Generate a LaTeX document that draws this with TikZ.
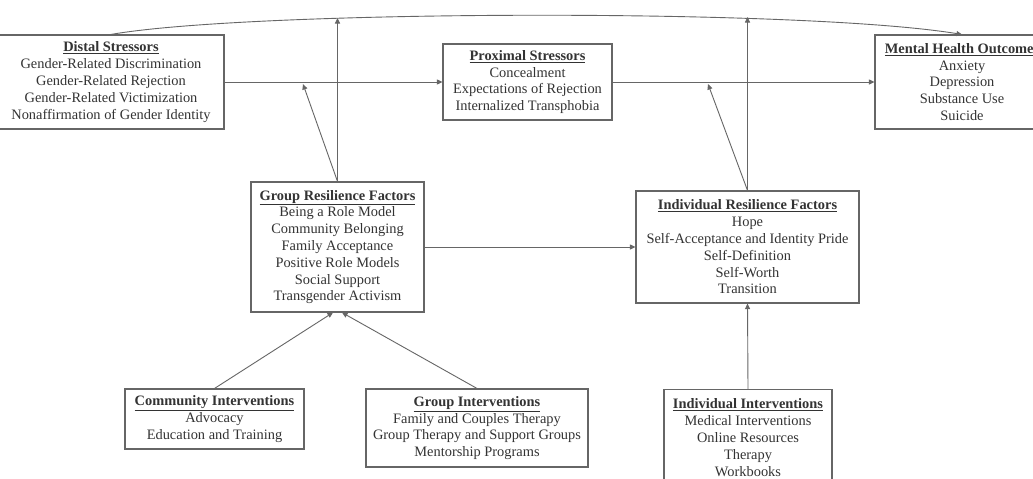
\documentclass[tikz,border=0pt]{standalone}
\usepackage{fontspec}
\setmainfont{Liberation Serif}
\usetikzlibrary{arrows.meta}
\tikzset{
  box/.style={draw=black!60, line width=1.1pt, align=center, inner sep=0pt, text=black!80,
    font=\fontsize{14.4}{16.8}\selectfont},
  conn/.style={draw=black!60, line width=0.9pt},
  arr/.style={conn, -{Triangle[length=5.5pt,width=5pt]}},
}
\newcommand{\ttl}[1]{\underline{\textbf{#1}}}
\begin{document}
\begin{tikzpicture}[x=1pt,y=-1pt]
\useasboundingbox (0,0) rectangle (1033,479);
\clip (0,0) rectangle (1033,479);
\fill[white] (0,0) rectangle (1033,479);
% nodes
\node[box, minimum width=226pt, minimum height=94pt] (dist) at (111,82)
  {\ttl{Distal Stressors}\\Gender-Related Discrimination\\Gender-Related Rejection\\Gender-Related Victimization\\Nonaffirmation of Gender Identity};
\node[box, minimum width=169pt, minimum height=76pt] (prox) at (527.5,82)
  {\ttl{Proximal Stressors}\\Concealment\\Expectations of Rejection\\Internalized Transphobia};
\node[box, minimum width=174pt, minimum height=94pt] (mho) at (962,82)
  {\ttl{Mental Health Outcomes}\\Anxiety\\Depression\\Substance Use\\Suicide};
\node[box, minimum width=173pt, minimum height=130pt] (grp) at (337.5,247)
  {\ttl{Group Resilience Factors}\\Being a Role Model\\Community Belonging\\Family Acceptance\\Positive Role Models\\Social Support\\Transgender Activism};
\node[box, minimum width=223pt, minimum height=112pt] (ind) at (747.5,247)
  {\ttl{Individual Resilience Factors}\\Hope\\Self-Acceptance and Identity Pride\\Self-Definition\\Self-Worth\\Transition};
\node[box, minimum width=179pt, minimum height=60pt] (comm) at (214.5,419)
  {\ttl{Community Interventions}\\Advocacy\\Education and Training};
\node[box, minimum width=222pt, minimum height=78pt] (gint) at (477,428)
  {\ttl{Group Interventions}\\Family and Couples Therapy\\Group Therapy and Support Groups\\Mentorship Programs};
\node[box, minimum width=168pt, minimum height=96pt, anchor=north] (iint) at (748,389)
  {\ttl{Individual Interventions}\\Medical Interventions\\Online Resources\\Therapy\\Workbooks};
% free ends
\coordinate (gtop) at (337.5,18);
\coordinate (itop) at (747.5,17);
\coordinate (d1) at (303,84);
\coordinate (d2) at (708,84);
% connectors
\draw[arr] (dist.north) .. controls (250,10) and (800,8) .. (mho.north);
\draw[arr] (dist.east) -- (prox.west);
\draw[arr] (prox.east) -- (mho.west);
\draw[arr] (grp.north) -- (gtop);
\draw[arr] (grp.north) -- (d1);
\draw[arr] (ind.north) -- (itop);
\draw[arr] (ind.north) -- (d2);
\draw[arr] (grp.east) -- (ind.west);
\draw[arr] (comm.north) -- ([xshift=-4.5pt]grp.south);
\draw[arr] (gint.north) -- ([xshift=4.5pt]grp.south);
\draw[arr] (iint.north) -- (ind.south);
\end{tikzpicture}
\end{document}
